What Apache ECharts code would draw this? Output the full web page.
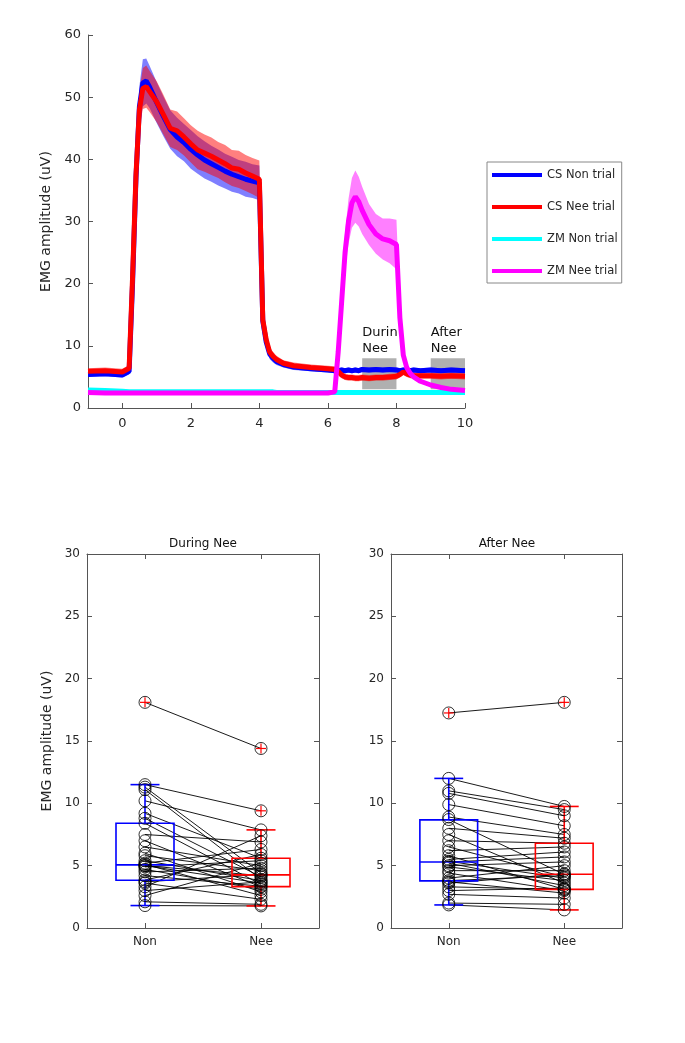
<!DOCTYPE html>
<html><head><meta charset="utf-8">
<script src="https://cdn.jsdelivr.net/npm/echarts@6/dist/echarts.min.js"></script>
<style>html,body{margin:0;padding:0;background:#fff}#c{width:685px;height:1043px}</style>
</head><body><div id="c"></div>
<script>
// ---------- top panel data ----------
const time = [-1, -0.5, 0, 0.2, 0.3, 0.4, 0.5, 0.6, 0.7, 0.8,
  1.0, 1.2, 1.4, 1.6, 1.8, 2.0, 2.2, 2.4, 2.6, 2.8,
  3.0, 3.2, 3.4, 3.6, 3.8, 4.0, 4.1, 4.2, 4.3, 4.4,
  4.5, 4.7, 5.0, 5.5, 6.0, 6.2, 6.3, 6.4, 6.5, 6.6,
  6.7, 6.8, 6.9, 7.0, 7.2, 7.4, 7.6, 7.8, 8.0, 8.1,
  8.2, 8.3, 8.4, 8.5, 8.7, 9.0, 9.3, 9.6, 10];
const csNonMean = [5.4, 5.5, 5.3, 5.9, 20, 37, 48.5, 52.3, 52.6, 51.6,
  49.2, 46.9, 44.8, 43.6, 42.7, 41.6, 40.7, 39.9, 39.3, 38.7,
  38.1, 37.6, 37.2, 36.8, 36.5, 36.2, 14.0, 10.6, 8.7, 8.0,
  7.5, 7.0, 6.6, 6.3, 6.1, 6.0, 6.0, 6.1, 6.0, 6.1,
  6.0, 6.1, 6.0, 6.2, 6.1, 6.2, 6.1, 6.2, 6.1, 6.0,
  6.1, 6.1, 6.0, 6.1, 6.0, 6.1, 6.0, 6.1, 6.0];
const csNonSd = [0.4, 0.4, 0.4, 0.5, 1.5, 2.5, 3.3, 3.8, 3.6, 3.4,
  3.3, 3.2, 3.1, 3.1, 3.0, 3.1, 3.0, 3.0, 2.9, 2.9,
  2.8, 2.8, 2.7, 2.8, 2.7, 2.8, 1.5, 1.0, 0.8, 0.7,
  0.6, 0.5, 0.5, 0.4, 0.4, 0.4, 0.4, 0.4, 0.4, 0.4,
  0.4, 0.4, 0.4, 0.4, 0.4, 0.4, 0.4, 0.4, 0.4, 0.4,
  0.4, 0.4, 0.4, 0.4, 0.4, 0.4, 0.4, 0.4, 0.4];
const csNeeMean = [5.9, 6.0, 5.8, 6.4, 21, 37.5, 48, 51.4, 51.7, 50.9,
  49.3, 47.2, 45.0, 44.6, 43.6, 42.5, 41.5, 41.0, 40.5, 39.9,
  39.3, 38.6, 38.4, 37.8, 37.3, 36.8, 14.2, 11.0, 9.0, 8.3,
  7.8, 7.2, 6.8, 6.5, 6.3, 6.2, 5.9, 5.3, 5.0, 4.9,
  4.9, 4.8, 4.8, 4.9, 4.8, 4.9, 4.9, 5.0, 5.1, 5.4,
  5.8, 5.5, 5.3, 5.2, 5.2, 5.2, 5.1, 5.2, 5.1];
const csNeeSd = [0.5, 0.5, 0.5, 0.5, 1.5, 2.5, 3.0, 3.3, 3.4, 3.3,
  3.3, 3.2, 3.0, 3.1, 3.0, 3.0, 3.1, 3.0, 3.0, 2.9,
  3.0, 2.9, 3.0, 2.9, 2.9, 3.0, 1.5, 1.0, 0.8, 0.7,
  0.6, 0.5, 0.5, 0.5, 0.5, 0.5, 0.5, 0.5, 0.5, 0.5,
  0.5, 0.5, 0.5, 0.5, 0.5, 0.5, 0.5, 0.5, 0.5, 0.5,
  0.5, 0.5, 0.5, 0.5, 0.5, 0.5, 0.5, 0.5, 0.5];
const zmNonMean = [2.9, 2.8, 2.7, 2.6, 2.6, 2.6, 2.6, 2.6, 2.6, 2.6,
  2.6, 2.6, 2.6, 2.6, 2.6, 2.6, 2.6, 2.6, 2.6, 2.6,
  2.6, 2.6, 2.6, 2.6, 2.6, 2.6, 2.6, 2.6, 2.6, 2.6,
  2.5, 2.5, 2.5, 2.5, 2.5, 2.5, 2.5, 2.5, 2.5, 2.5,
  2.5, 2.5, 2.5, 2.5, 2.5, 2.5, 2.5, 2.5, 2.5, 2.5,
  2.5, 2.5, 2.5, 2.5, 2.5, 2.5, 2.5, 2.5, 2.5];
const zmNeeMean = [2.5, 2.4, 2.4, 2.4, 2.4, 2.4, 2.4, 2.4, 2.4, 2.4,
  2.4, 2.4, 2.4, 2.4, 2.4, 2.4, 2.4, 2.4, 2.4, 2.4,
  2.4, 2.4, 2.4, 2.4, 2.4, 2.4, 2.4, 2.4, 2.4, 2.4,
  2.4, 2.4, 2.4, 2.4, 2.4, 2.6, 9.0, 17.0, 25.0, 30.0,
  33.0, 34.0, 33.2, 31.8, 29.5, 28.0, 27.2, 26.9, 26.3, 14.5,
  8.5, 6.5, 5.6, 5.0, 4.3, 3.7, 3.3, 3.0, 2.8];
const zmNeeSd = [0.3, 0.3, 0.3, 0.3, 0.3, 0.3, 0.3, 0.3, 0.3, 0.3,
  0.3, 0.3, 0.3, 0.3, 0.3, 0.3, 0.3, 0.3, 0.3, 0.3,
  0.3, 0.3, 0.3, 0.3, 0.3, 0.3, 0.3, 0.3, 0.3, 0.3,
  0.3, 0.3, 0.3, 0.3, 0.3, 0.4, 1.5, 2.5, 3.2, 3.6,
  4.0, 4.2, 4.0, 3.8, 3.3, 3.2, 3.3, 3.6, 4.0, 2.0,
  1.0, 0.7, 0.5, 0.4, 0.3, 0.3, 0.3, 0.3, 0.3];
const seriesNames = ['CS Non trial', 'CS Nee trial', 'ZM Non trial', 'ZM Nee trial'];
const xTickValues = [0, 2, 4, 6, 8, 10];
const windowLabels = ['During\nNee', 'After\nNee'];
const windowStart = [7, 9];
const windowEnd = [8, 10];
const windowLow = 3, windowHigh = 8;

// ---------- bottom panels data (paired subjects) ----------
const groups = ['Non', 'Nee'];
const panelTitles = ['During Nee', 'After Nee'];
const durNon = [18.1, 11.5, 11.3, 11.1, 10.2, 9.2, 8.8, 8.4, 7.5, 7.0, 6.5, 6.0, 5.8, 5.4, 5.2,
  5.1, 5.0, 5.0, 4.9, 4.7, 4.5, 4.2, 3.85, 3.7, 3.6, 3.3, 3.0, 2.6, 2.1, 1.8];
const durNee = [14.4, 9.4, 4.4, 3.9, 7.87, 5.6, 4.1, 3.5, 6.9, 3.3, 5.0, 2.9, 4.6, 3.8, 6.3,
  2.6, 4.2, 3.6, 5.4, 3.1, 4.8, 3.35, 5.9, 4.3, 2.3, 7.4, 3.7, 5.2, 1.9, 1.77];
const aftNon = [17.25, 12.0, 11.0, 10.8, 9.9, 8.9, 8.7, 8.0, 7.5, 7.0, 6.5, 6.2, 5.8, 5.5, 5.35,
  5.3, 5.2, 5.0, 4.9, 4.6, 4.4, 4.0, 3.8, 3.7, 3.6, 3.3, 3.0, 2.7, 2.0, 1.85];
const aftNee = [18.1, 9.75, 9.5, 9.0, 8.2, 7.5, 4.3, 7.2, 3.6, 6.8, 4.1, 6.5, 3.1, 6.1, 4.0,
  5.7, 3.4, 5.3, 3.8, 4.6, 3.0, 5.0, 4.2, 2.8, 4.35, 3.1, 3.2, 2.4, 1.9, 1.45];
// box stats: [lower whisker, q1, median, q3, upper whisker]
const durNonBox = [1.8, 3.83, 5.06, 8.4, 11.5];
const durNeeBox = [1.77, 3.32, 4.26, 5.6, 7.87];
const aftNonBox = [1.85, 3.78, 5.3, 8.67, 12.0];
const aftNeeBox = [1.45, 3.1, 4.31, 6.8, 9.75];
const durOutliers = [[0, 18.1], [1, 9.4], [1, 14.4]];
const aftOutliers = [[0, 17.25], [1, 18.1]];

// ---------- build ----------
const FONT = 'DejaVu Sans';
const TXT = '#262626';
const AX = '#555';
const pts = arr => time.map((t, i) => [t, arr[i]]);

function bandSeries(mean, sd, color) {
  const rows = time.map((t, i) => [t, mean[i] - sd[i], mean[i] + sd[i]]);
  return {
    type: 'custom', xAxisIndex: 0, yAxisIndex: 0, silent: true,
    data: rows, encode: { x: 0, y: [1, 2] },
    renderItem: function (params, api) {
      if (params.dataIndex !== 0) return null;
      const upper = rows.map(r => api.coord([r[0], r[2]]));
      const lower = rows.map(r => api.coord([r[0], r[1]])).reverse();
      return { type: 'polygon', shape: { points: upper.concat(lower) },
        style: { fill: color, stroke: null } };
    }
  };
}
function meanSeries(name, mean, color) {
  return { name: name, type: 'line', xAxisIndex: 0, yAxisIndex: 0, symbol: 'none', color: color,
    lineStyle: { width: 5, color: color }, data: pts(mean) };
}

const topSeries = [];
topSeries.push({
  name: 'windows', type: 'line', xAxisIndex: 0, yAxisIndex: 0, data: [], symbol: 'none',
  markArea: {
    silent: true,
    itemStyle: { color: '#b0b0b0' },
    label: { show: true, position: [0, -2], align: 'left', verticalAlign: 'bottom', color: '#111',
      fontSize: 13, lineHeight: 16, fontFamily: FONT, width: 38, overflow: 'truncate', ellipsis: '' },
    data: windowLabels.map((lab, i) => [
      { name: lab, xAxis: windowStart[i], yAxis: windowLow },
      { xAxis: windowEnd[i], yAxis: windowHigh }])
  }
});
topSeries.push(bandSeries(csNonMean, csNonSd, 'rgba(0,0,255,0.5)'));
topSeries.push(meanSeries(seriesNames[0], csNonMean, '#0000ff'));
topSeries.push(bandSeries(csNeeMean, csNeeSd, 'rgba(255,0,0,0.5)'));
topSeries.push(meanSeries(seriesNames[1], csNeeMean, '#ff0000'));
topSeries.push(meanSeries(seriesNames[2], zmNonMean, '#00ffff'));
topSeries.push(bandSeries(zmNeeMean, zmNeeSd, 'rgba(255,0,255,0.5)'));
topSeries.push(meanSeries(seriesNames[3], zmNeeMean, '#ff00ff'));

function pairRender(params, api) {
  const p1 = api.coord([0, api.value(1)]);
  const p2 = api.coord([1, api.value(2)]);
  return { type: 'line', shape: { x1: p1[0], y1: p1[1], x2: p2[0], y2: p2[1] },
    style: { stroke: '#000', lineWidth: 0.9 } };
}
function boxRender(params, api) {
  const c = api.value(0);
  const v = [1, 2, 3, 4, 5].map(d => api.coord([c, api.value(d)]));
  const bw = api.size([1, 0])[0];
  const x = v[0][0], hw = bw * 0.25, cw = bw * 0.125;
  const col = c === 0 ? '#0000ff' : '#ff0000';
  const st = { stroke: col, lineWidth: 1.6, fill: null };
  const ln = (x1, y1, x2, y2) => ({ type: 'line', shape: { x1, y1, x2, y2 }, style: st });
  return { type: 'group', children: [
    { type: 'rect', shape: { x: x - hw, y: v[3][1], width: 2 * hw, height: v[1][1] - v[3][1] }, style: st },
    ln(x - hw, v[2][1], x + hw, v[2][1]),
    ln(x, v[3][1], x, v[4][1]),
    ln(x, v[1][1], x, v[0][1]),
    ln(x - cw, v[4][1], x + cw, v[4][1]),
    ln(x - cw, v[0][1], x + cw, v[0][1])
  ] };
}
function plusRender(params, api) {
  const p = api.coord([api.value(0), api.value(1)]);
  const s = 5, st = { stroke: '#ff0000', lineWidth: 1.2 };
  return { type: 'group', children: [
    { type: 'line', shape: { x1: p[0] - s, y1: p[1], x2: p[0] + s, y2: p[1] }, style: st },
    { type: 'line', shape: { x1: p[0], y1: p[1] - s, x2: p[0], y2: p[1] + s }, style: st }
  ] };
}
function panelSeries(gi, non, nee, nonBox, neeBox, outliers) {
  const xi = 1 + 2 * gi, yi = 1 + 2 * gi;
  return [
    { type: 'custom', xAxisIndex: xi, yAxisIndex: yi, renderItem: pairRender,
      data: non.map((v, i) => [0, v, nee[i]]), encode: { x: 0, y: [1, 2] }, silent: true },
    { type: 'scatter', xAxisIndex: xi, yAxisIndex: yi, symbol: 'circle', symbolSize: 12,
      itemStyle: { color: 'rgba(0,0,0,0)', borderColor: '#000', borderWidth: 1 },
      data: non.map(v => [0, v]).concat(nee.map(v => [1, v])), silent: true },
    { type: 'custom', xAxisIndex: xi, yAxisIndex: yi, renderItem: boxRender,
      data: [[0].concat(nonBox), [1].concat(neeBox)], encode: { x: 0, y: [1, 2, 3, 4, 5] }, silent: true },
    { type: 'custom', xAxisIndex: xi, yAxisIndex: yi, renderItem: plusRender,
      data: outliers, encode: { x: 0, y: 1 }, silent: true }
  ];
}

const lbl = { color: TXT, fontSize: 13, fontFamily: FONT };
const axl = { show: true, onZero: false, lineStyle: { color: AX, width: 1 } };
const tick = { show: true, inside: true, length: 5, lineStyle: { color: AX } };

const xAxes = [
  { type: 'value', gridIndex: 0, min: -1, max: 10, axisLine: axl,
    axisTick: Object.assign({}, tick, { customValues: xTickValues }),
    axisLabel: Object.assign({}, lbl, { customValues: xTickValues, margin: 9 }), splitLine: { show: false } }
];
const yAxes = [
  { type: 'value', gridIndex: 0, min: 0, max: 60, interval: 10, axisLine: axl, axisTick: tick,
    axisLabel: Object.assign({}, lbl, { margin: 7 }), splitLine: { show: false },
    name: 'EMG amplitude (uV)', nameLocation: 'middle', nameGap: 35,
    nameTextStyle: { color: TXT, fontSize: 14, fontFamily: FONT } }
];
[1, 2].forEach((g, k) => {
  xAxes.push({ type: 'category', gridIndex: g, data: groups, position: 'bottom', boundaryGap: true,
    axisLine: axl, axisTick: Object.assign({}, tick, { alignWithLabel: true }),
    axisLabel: Object.assign({}, lbl, { fontSize: 12, margin: 8 }) });
  xAxes.push({ type: 'category', gridIndex: g, data: groups, position: 'top', boundaryGap: true,
    axisLine: axl, axisTick: Object.assign({}, tick, { alignWithLabel: true }), axisLabel: { show: false } });
  const ya = { type: 'value', gridIndex: g, min: 0, max: 30, interval: 5, position: 'left',
    axisLine: axl, axisTick: tick, axisLabel: Object.assign({}, lbl, { fontSize: 12, margin: 7 }), splitLine: { show: false } };
  if (k === 0) Object.assign(ya, { name: 'EMG amplitude (uV)', nameLocation: 'middle', nameGap: 33,
    nameTextStyle: { color: TXT, fontSize: 14, fontFamily: FONT } });
  yAxes.push(ya);
  yAxes.push({ type: 'value', gridIndex: g, min: 0, max: 30, interval: 5, position: 'right',
    axisLine: axl, axisTick: tick, axisLabel: { show: false }, splitLine: { show: false } });
});

const option = {
  animation: false,
  backgroundColor: '#fff',
  textStyle: { fontFamily: FONT },
  title: panelTitles.map((t, i) => ({ text: t, left: i === 0 ? 203 : 507, top: 538, textAlign: 'center', padding: 0,
    textStyle: { fontSize: 12, fontWeight: 'normal', color: '#111', fontFamily: FONT } })),
  legend: {
    data: seriesNames, orient: 'vertical', left: 487, top: 162,
    icon: 'rect', itemWidth: 50, itemHeight: 4, itemGap: 18,
    padding: [6, 4, 5, 5], borderColor: '#888', borderWidth: 1, backgroundColor: '#fff',
    textStyle: { color: TXT, fontSize: 11.5, fontFamily: FONT, lineHeight: 14 }
  },
  grid: [
    { left: 88, right: 220, top: 35, bottom: 635 },
    { left: 87, right: 366, top: 554, bottom: 115 },
    { left: 391, right: 63, top: 554, bottom: 115 }
  ],
  xAxis: xAxes,
  yAxis: yAxes,
  series: topSeries
    .concat(panelSeries(0, durNon, durNee, durNonBox, durNeeBox, durOutliers))
    .concat(panelSeries(1, aftNon, aftNee, aftNonBox, aftNeeBox, aftOutliers))
};
const chart = echarts.init(document.getElementById('c'), null, { renderer: 'canvas' });
chart.setOption(option);
</script></body></html>
